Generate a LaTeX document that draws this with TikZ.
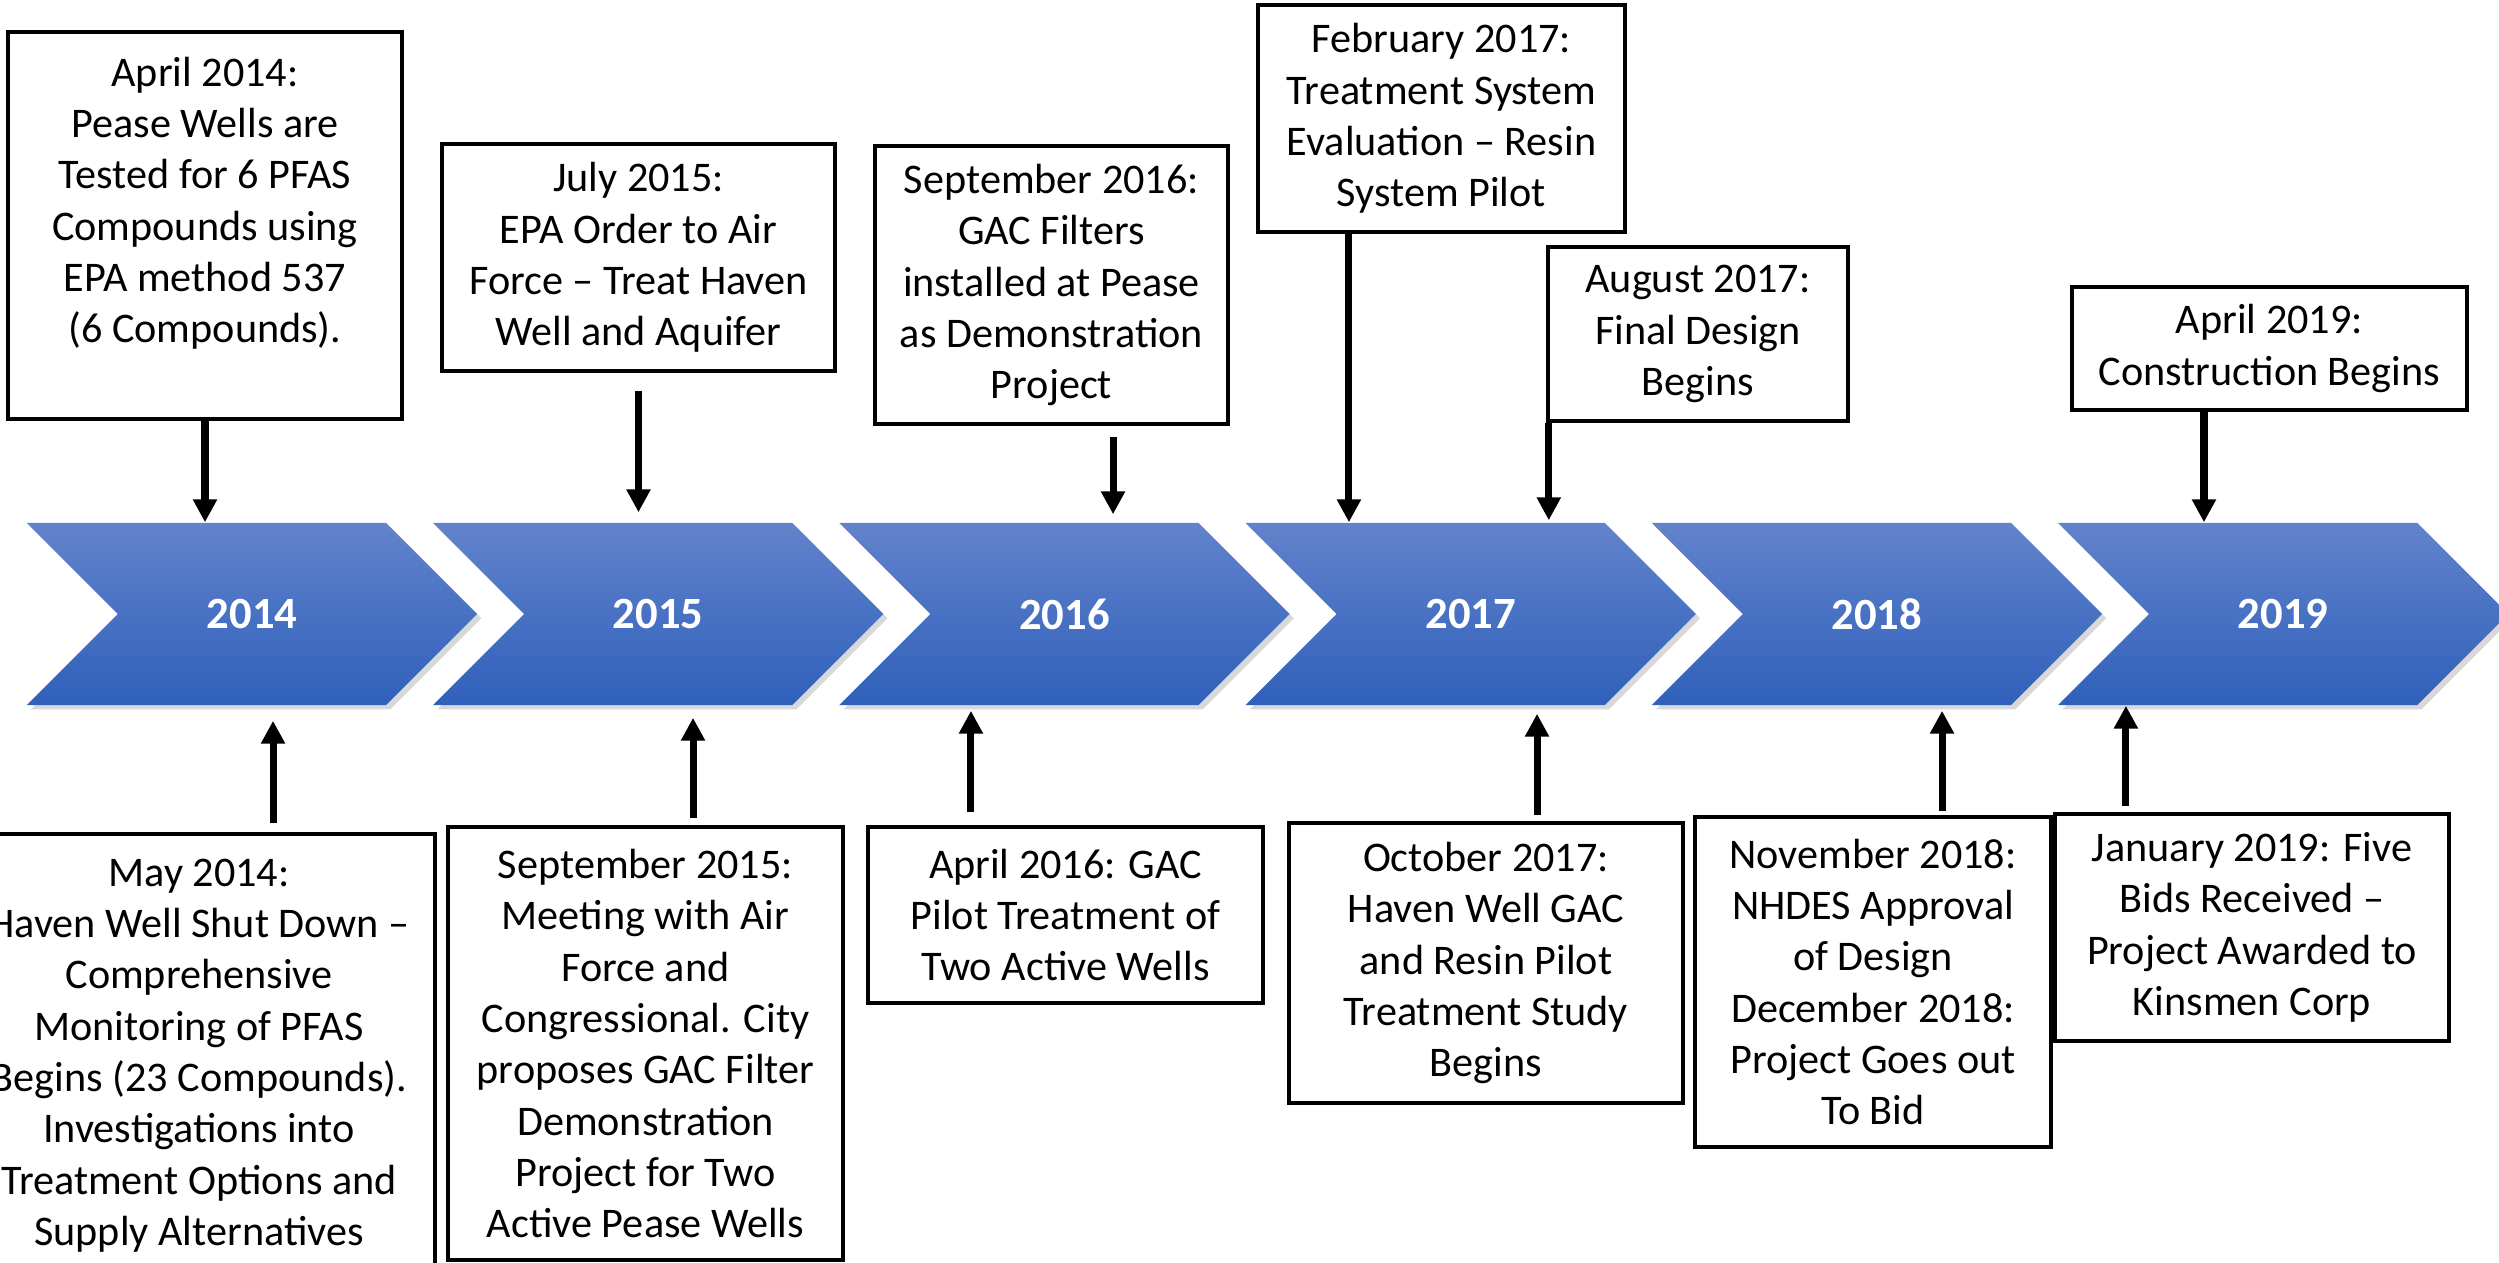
\documentclass[tikz,border=0pt]{standalone}
\usepackage{fontspec}
\setmainfont{Carlito}
\usepackage{tikz}
\usetikzlibrary{calc, arrows.meta, positioning, shapes.symbols, shadows}
\definecolor{chevtop}{RGB}{98,131,204}
\definecolor{chevbot}{RGB}{47,96,186}
\tikzstyle{line} = [draw, line width=2pt, -{Triangle[width=6.5pt,length=6.5pt]}]
\tikzstyle{box} = [draw, line width=1.2pt, align=center, inner sep=0pt, font=\fontsize{12}{14.6}\selectfont]

\begin{document}
\begin{tikzpicture}
    [
        x=0.01cm, y=-0.01cm,
        node distance=4.06cm,
        chev/.style={shape=signal, signal from=west, signal to=east, signal pointer angle=90,
            minimum width=4.5cm, minimum height=1.82cm, inner sep=0pt,
            top color=chevtop, bottom color=chevbot, text=white,
            font=\fontsize{12.7}{15}\selectfont\bfseries,
            drop shadow={shadow xshift=1.2pt, shadow yshift=-1.2pt, opacity=0.3}}
    ]
    \useasboundingbox[fill=white] (0,0) rectangle (2499,1262);

    % years
    \node[chev] (y2014) at (252,614) {2014};
    \node[chev, right of=y2014] (y2015) {2015};
    \node[chev, right of=y2015] (y2016) {2016};
    \node[chev, right of=y2016] (y2017) {2017};
    \node[chev, right of=y2017] (y2018) {2018};
    \node[chev, right of=y2018] (y2019) {2019};

    % events above
    \node[box, minimum width=3.94cm, minimum height=3.87cm] (apr14) at (205,225.5)
        {April 2014:\\Pease Wells are\\Tested for 6 PFAS\\Compounds using\\EPA method 537\\(6 Compounds).\\ \mbox{}};
    \node[box, minimum width=3.93cm, minimum height=2.27cm] (jul15) at (638.5,257.5)
        {July 2015:\\EPA Order to Air\\Force – Treat Haven\\Well and Aquifer};
    \node[box, minimum width=3.53cm, minimum height=2.78cm] (sep16) at (1051.5,285)
        {September 2016:\\GAC Filters\\installed at Pease\\as Demonstration\\Project};
    \node[box, minimum width=3.67cm, minimum height=2.27cm] (feb17) at (1441.5,118.5)
        {February 2017:\\Treatment System\\Evaluation – Resin\\System Pilot};
    \node[box, minimum width=3.00cm, minimum height=1.74cm] (aug17) at (1698,334)
        {August 2017:\\Final Design\\Begins};
    \node[box, minimum width=3.95cm, minimum height=1.23cm] (apr19) at (2269.5,348.5)
        {April 2019:\\Construction Begins};

    % events below
    \node[box, anchor=north, minimum width=4.72cm, inner ysep=7pt] (may14) at (199,832)
        {May 2014:\\Haven Well Shut Down –\\Comprehensive\\Monitoring of PFAS\\Begins (23 Compounds).\\Investigations into\\Treatment Options and\\Supply Alternatives};
    \node[box, minimum width=3.95cm, minimum height=4.33cm] (sep15) at (645.5,1043.5)
        {September 2015:\\Meeting with Air\\Force and\\Congressional. City\\proposes GAC Filter\\Demonstration\\Project for Two\\Active Pease Wells};
    \node[box, minimum width=3.95cm, minimum height=1.76cm] (apr16) at (1065.5,915)
        {April 2016: GAC\\Pilot Treatment of\\Two Active Wells};
    \node[box, minimum width=3.94cm, minimum height=2.80cm] (oct17) at (1486,963)
        {October 2017:\\Haven Well GAC\\and Resin Pilot\\Treatment Study\\Begins};
    \node[box, minimum width=3.56cm, minimum height=3.30cm] (nov18) at (1873,982)
        {November 2018:\\NHDES Approval\\of Design\\December 2018:\\Project Goes out\\To Bid};
    \node[box, minimum width=3.94cm, minimum height=2.27cm] (jan19) at (2252,927.5)
        {January 2019: Five\\Bids Received –\\Project Awarded to\\Kinsmen Corp};

    % arrows down
    \draw[line] (apr14.south) -- (apr14.south |- y2014.north);
    \draw[line, shorten <=1.8mm, shorten >=1mm] (jul15.south) -- (jul15.south |- y2015.north);
    \draw[line, shorten <=1.1mm, shorten >=0.8mm] ([xshift=6.15mm]sep16.south) -- ([xshift=6.15mm]sep16.south |- y2016.north);
    \draw[line] ([xshift=-9.25mm]feb17.south) -- ([xshift=-9.25mm]feb17.south |- y2017.north);
    \draw[line, shorten >=0.2mm] ([xshift=0.3mm]aug17.south west) -- ([xshift=0.3mm]aug17.south west |- y2017.north);
    \draw[line] ([xshift=-6.55mm]apr19.south) -- ([xshift=-6.55mm]apr19.south |- y2019.north);

    % arrows up
    \draw[line, shorten <=0.9mm, shorten >=1.5mm] ([xshift=7.4mm]may14.north) -- ([xshift=7.4mm]may14.north |- y2014.south);
    \draw[line, shorten <=0.7mm, shorten >=1.2mm] ([xshift=4.75mm]sep15.north) -- ([xshift=4.75mm]sep15.north |- y2015.south);
    \draw[line, shorten <=1.3mm, shorten >=0.5mm] ([xshift=-9.45mm]apr16.north) -- ([xshift=-9.45mm]apr16.north |- y2016.south);
    \draw[line, shorten <=0.6mm, shorten >=0.8mm] ([xshift=5.1mm]oct17.north) -- ([xshift=5.1mm]oct17.north |- y2017.south);
    \draw[line, shorten <=0.4mm, shorten >=0.5mm] ([xshift=6.9mm]nov18.north) -- ([xshift=6.9mm]nov18.north |- y2018.south);
    \draw[line, shorten <=0.6mm] ([xshift=-12.6mm]jan19.north) -- ([xshift=-12.6mm]jan19.north |- y2019.south);

\end{tikzpicture}
\end{document}
